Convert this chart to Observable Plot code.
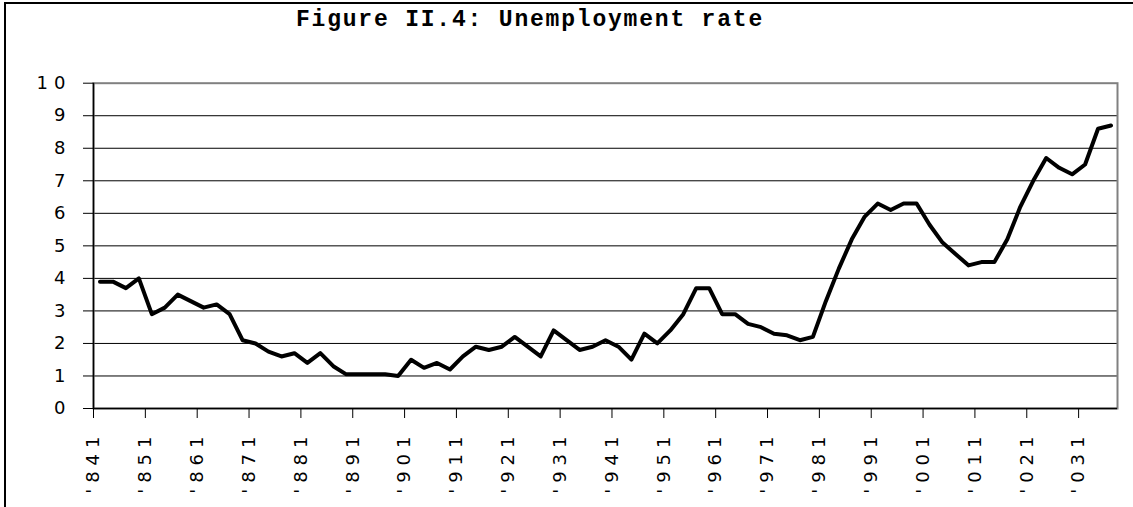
<!DOCTYPE html>
<html><head><meta charset="utf-8">
<script src="https://cdn.jsdelivr.net/npm/d3@7"></script>
<script src="https://cdn.jsdelivr.net/npm/@observablehq/plot@0.6"></script>
<style>
body{margin:0;background:#fff;}
#wrap{position:relative;width:1133px;height:507px;overflow:hidden;background:#fff;}
#frame{position:absolute;left:4px;top:2px;width:1200px;height:600px;border-left:2px solid #000;border-top:2px solid #000;pointer-events:none;z-index:5;}
#title{position:absolute;left:0;top:0;width:1060px;text-align:center;font-family:"Liberation Mono",monospace;font-weight:bold;font-size:23px;letter-spacing:1.8px;line-height:1;padding-top:9px;color:#000;}
#chart{position:absolute;left:0;top:44px;}
#chart svg text{letter-spacing:6px;}
</style></head><body>
<div id="wrap"><div id="title">Figure II.4: Unemployment rate</div><div id="chart"></div><div id="frame"></div></div>
<script>
// Unemployment rate (%), one value per 2.5-year period starting 1841
const unemployment = [
  3.9, 3.9, 3.7, 4.0, 2.9, 3.1, 3.5, 3.3, 3.1, 3.2,
  2.9, 2.1, 2.0, 1.75, 1.6, 1.7, 1.4, 1.7, 1.3, 1.05,
  1.05, 1.05, 1.05, 1.0, 1.5, 1.25, 1.4, 1.2, 1.6, 1.9,
  1.8, 1.9, 2.2, 1.9, 1.6, 2.4, 2.1, 1.8, 1.9, 2.1,
  1.9, 1.5, 2.3, 2.0, 2.4, 2.9, 3.7, 3.7, 2.9, 2.9,
  2.6, 2.5, 2.3, 2.25, 2.1, 2.2, 3.3, 4.3, 5.2, 5.9,
  6.3, 6.1, 6.3, 6.3, 5.65, 5.1, 4.75, 4.4, 4.5, 4.5,
  5.2, 6.2, 7.0, 7.7, 7.4, 7.2, 7.5, 8.6, 8.7
];
const firstYear = 1841;
const periodLength = 2.5;
const xTickYears = [1841,1851,1861,1871,1881,1891,1901,1911,1921,1931,1941,1951,1961,1971,1981,1991,2001,2011,2021,2031];
const xTickLabels = ["'841","'851","'861","'871","'881","'891","'901","'911","'921","'931","'941","'951","'961","'971","'981","'991","'001","'011","'021","'031"];
const yTicks = [0,1,2,3,4,5,6,7,8,9,10];
const gridValues = [1,2,3,4,5,6,7,8,9];

const data = unemployment.map((v, i) => ({year: firstYear + periodLength * (i + 0.5), rate: v}));
const labelOf = new Map(xTickYears.map((y, i) => [y, xTickLabels[i]]));

const H = 463;
const top0 = 44;
const chart = Plot.plot({
  width: 1133,
  height: H,
  marginLeft: 93,
  marginRight: 16,
  marginTop: 82.7 - top0,
  marginBottom: H - (408 - top0),
  x: {domain: [firstYear, firstYear + periodLength * unemployment.length], axis: null},
  y: {domain: [0, 10], axis: null},
  style: {fontFamily: "DejaVu Sans", color: "#000", background: "transparent", overflow: "visible"},
  marks: [
    Plot.ruleY(gridValues, {stroke: "#000", strokeWidth: 1}),
    Plot.frame({stroke: "#808080", strokeWidth: 2}),
    Plot.axisY({ticks: yTicks, tickSize: 10, tickPadding: 12, fontSize: 18, label: null, stroke: "#000", fill: "#000"}),
    Plot.axisX({ticks: xTickYears, tickSize: 10, tickPadding: 12, fontSize: 18, tickRotate: -90, label: null, tickFormat: d => labelOf.get(d), stroke: "#000", fill: "#000"}),
    Plot.ruleX([firstYear], {stroke: "#000", strokeWidth: 1.5}),
    Plot.ruleY([0], {stroke: "#000", strokeWidth: 1.5}),
    Plot.line(data, {x: "year", y: "rate", stroke: "#000", strokeWidth: 4, strokeLinejoin: "round"})
  ]
});
document.getElementById("chart").appendChild(chart);
</script>
</body></html>
